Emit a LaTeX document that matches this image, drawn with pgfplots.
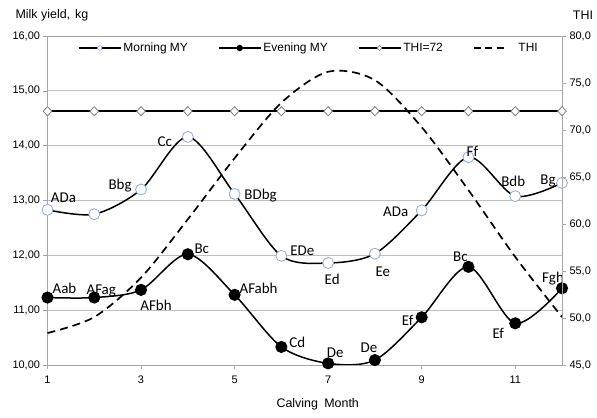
\documentclass[border=0pt]{standalone}
\usepackage{fontspec}
\setmainfont{Liberation Sans}
\newfontfamily\labfont{Carlito}
\usepackage{pgfplots}
\usepackage{pgfplotstable}
\pgfplotsset{compat=1.18}
\definecolor{gridgray}{HTML}{BFBFBF}
\definecolor{axgray}{HTML}{A6A6A6}
\definecolor{circblue}{HTML}{8EAADB}
\definecolor{diagray}{HTML}{808080}

\pgfplotstableread{
x y lab dx dy
1 12.83 ADa 16 12
2 12.75 {} 0 0
3 13.20 Bbg -21 4
4 14.16 Cc -23 -5
5 13.12 BDbg 26 -2
6 11.99 EDe 21 5
7 11.86 Ed 4 -16
8 12.03 Ee 8 -18
9 12.82 ADa -26 -1
10 13.79 Ff 4 6
11 13.08 Bdb -2 15
12 13.32 Bg -14 2
}\morning

\pgfplotstableread{
x y lab dx dy
1 11.23 Aab 17 9
2 11.23 AFag 7 7
3 11.37 AFbh 15 -15
4 12.02 Bc 14 5
5 11.28 AFabh 24 6
6 10.33 Cd 16 5
7 10.03 De 7 11
8 10.09 De -6 12
9 10.87 Ef -14 -3
10 11.79 Bc -8 10
11 10.76 Ef -17 -10
12 11.40 Fgh -9 10
}\evening

\pgfplotstableread{
x thi
1 48.4
2 50.1
3 54.3
4 60.5
5 67.0
6 72.9
7 76.2
8 75.3
9 70.3
10 63.6
11 56.5
12 50.1
}\thi

\pgfplotsset{
  lab/.style={
    nodes near coords, point meta=explicit symbolic,
    nodes near coords align={center},
    visualization depends on={\thisrow{dx}\as\dx},
    visualization depends on={\thisrow{dy}\as\dy},
    every node near coord/.append style={font=\labfont\fontsize{15}{15}\selectfont,
      anchor=center, xshift=\dx bp, yshift=\dy bp, inner sep=0pt, text=black}
  }
}

\begin{document}
\begin{tikzpicture}
\begin{axis}[
  name=main,
  scale only axis, width=514.5bp, height=329bp,
  xmin=1, xmax=12, ymin=10, ymax=16,
  xtick={1,3,5,7,9,11}, ytick={10,11,...,16},
  xtick pos=bottom, ytick pos=left,
  tick align=outside,
  major tick length=4bp,
  tick style={axgray, line width=0.6bp},
  axis line style={axgray, line width=0.8bp},
  ymajorgrids, major grid style={gridgray, line width=0.8bp},
  ticklabel style={font=\fontsize{11}{13}\selectfont},
  /pgf/number format/assume math mode=true,
  yticklabel style={/pgf/number format/fixed, /pgf/number format/fixed zerofill,
    /pgf/number format/precision=2, /pgf/number format/use comma},
  xticklabel style={yshift=-3bp},
  legend columns=4,
  legend style={draw=none, fill=none, at={(axis description cs:0.508,0.9635)},
    anchor=center, font=\fontsize{12}{14}\selectfont,
    /tikz/every even column/.append style={column sep=28bp},
    inner sep=0pt},
  legend cell align=left,
  legend image code/.code={\draw[mark repeat=2,mark phase=2,#1] plot coordinates {(0bp,0bp) (21bp,0bp) (42bp,0bp)};},
]
\addlegendimage{black, line width=1.5bp, mark=*, mark size=2.2bp, mark options={draw=circblue, fill=white, line width=0.6bp}}
\addlegendentry{Morning MY}
\addlegendimage{black, line width=1.5bp, mark=*, mark size=2.4bp, mark options={draw=black, fill=black}}
\addlegendentry{Evening MY}
\addlegendimage{black, line width=1.5bp, mark=diamond*, mark size=2.6bp, mark options={draw=diagray, fill=white, line width=0.6bp, xscale=1.25}}
\addlegendentry{THI=72}
\addlegendimage{black, line width=1.6bp, dash pattern=on 7bp off 4.5bp on 7bp off 4.5bp on 7bp off 30bp}
\addlegendentry{THI}

\addplot[black, line width=1.5bp, smooth, tension=0.5, mark=*, mark size=5.5bp,
  mark options={draw=circblue, fill=white, line width=0.8bp}, lab, forget plot]
  table[x=x, y=y, meta=lab] {\morning};
\addplot[black, line width=1.5bp, smooth, tension=0.5, mark=*, mark size=5.3bp,
  mark options={draw=black, fill=black}, lab, forget plot]
  table[x=x, y=y, meta=lab] {\evening};
\end{axis}

\begin{axis}[
  scale only axis, width=514.5bp, height=329bp,
  xmin=1, xmax=12, ymin=45, ymax=80,
  axis y line*=right, axis x line=none,
  ytick={45,50,...,80},
  tick align=outside,
  major tick length=4bp,
  tick style={axgray, line width=0.6bp},
  axis line style={axgray, line width=0.8bp},
  ticklabel style={font=\fontsize{11}{13}\selectfont},
  /pgf/number format/assume math mode=true,
  yticklabel style={/pgf/number format/fixed, /pgf/number format/fixed zerofill,
    /pgf/number format/precision=1, /pgf/number format/use comma},
]
\addplot[black, line width=1.5bp, mark=diamond*, mark size=4.6bp,
  mark options={draw=diagray, fill=white, line width=0.8bp, xscale=1.25}]
  coordinates {(1,72) (2,72) (3,72) (4,72) (5,72) (6,72) (7,72) (8,72) (9,72) (10,72) (11,72) (12,72)};
\addplot[black, line width=1.7bp, smooth, tension=0.5, dash pattern=on 8bp off 5bp]
  table[x=x, y=thi] {\thi};
\end{axis}

\node[anchor=west, font=\fontsize{12.5}{14}\selectfont] at ([xshift=-35.5bp, yshift=21bp]main.north west) {Milk yield,\hspace{0.4em}kg};
\node[font=\fontsize{12.5}{14}\selectfont] at ([xshift=21bp, yshift=21bp]main.north east) {THI};
\node[font=\fontsize{12.5}{14}\selectfont] at ([xshift=13bp, yshift=-39bp]main.south) {Calving\hspace{0.5em}Month};

\pgfresetboundingbox
\useasboundingbox ([xshift=-47.5bp,yshift=-53bp]main.south west) rectangle ([xshift=35bp,yshift=36bp]main.north east);
\end{tikzpicture}
\end{document}
